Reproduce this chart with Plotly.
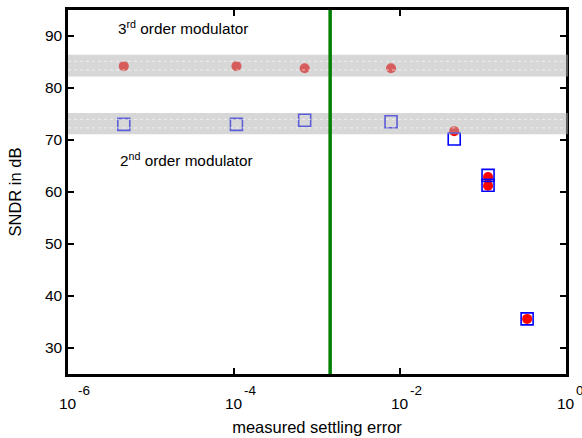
import math
import plotly.graph_objects as go

# data
settling_err = [4.7e-6, 1.07e-4, 7.1e-4, 7.8e-3, 0.045, 0.115, 0.115, 0.34]
sndr_3rd = [84.2, 84.2, 83.8, 83.8, 71.7, 62.9, 61.2, 35.6]
sndr_2nd = [73.0, 73.0, 73.8, 73.5, 70.2, 63.2, 61.3, 35.6]
limit_err = 1.44e-3
band_3rd = [82.2, 86.4]
band_2nd = [71.1, 75.2]
x_tickvals = [1e-6, 1e-4, 1e-2, 1]
x_tick_base = ["10", "10", "10", "10"]
x_tick_exp = ["-6", "-4", "-2", "0"]
y_tickvals = [30, 40, 50, 60, 70, 80, 90]

fig = go.Figure()
fig.add_trace(go.Scatter(x=settling_err, y=sndr_3rd, mode="markers",
                         marker=dict(symbol="circle", size=10, color="#ff0000",
                                     line=dict(width=0)), showlegend=False))
fig.add_trace(go.Scatter(x=settling_err, y=sndr_2nd, mode="markers",
                         marker=dict(symbol="square-open", size=12, color="#0000ff",
                                     line=dict(width=1.6)), showlegend=False))

for b in (band_3rd, band_2nd):
    fig.add_shape(type="rect", xref="paper", yref="y", x0=0, x1=1.004, y0=b[0], y1=b[1],
                  fillcolor="rgba(178,178,178,0.52)", line=dict(width=0), layer="above")
    span = b[1] - b[0]
    for f in (0.3, 0.7):
        yy = b[0] + span * f
        fig.add_shape(type="line", xref="paper", yref="y", x0=0, x1=1, y0=yy, y1=yy,
                      line=dict(color="rgba(255,255,255,0.6)", width=1, dash="dot"),
                      layer="above")

fig.add_shape(type="line", xref="x", yref="paper", x0=limit_err, x1=limit_err, y0=0, y1=1,
              line=dict(color="#008000", width=3.5), layer="above")

fig.add_annotation(x=-4.62, y=91.6, xref="x", yref="y", text="3<sup>rd</sup> order modulator",
                   showarrow=False, font=dict(size=15.3, color="black"))
fig.add_annotation(x=-4.57, y=66.3, xref="x", yref="y", text="2<sup>nd</sup> order modulator",
                   showarrow=False, font=dict(size=15.3, color="black"))

# x tick labels: "10" centred on the tick, exponent to its upper right
for v, base, ex in zip(x_tickvals, x_tick_base, x_tick_exp):
    lx = math.log10(v)
    fig.add_annotation(x=lx, y=0, xref="x", yref="paper", text=base,
                       showarrow=False, xanchor="center", yanchor="middle",
                       xshift=-0.5, yshift=-29, font=dict(size=15.5, color="black"))
    fig.add_annotation(x=lx, y=0, xref="x", yref="paper", text=ex,
                       showarrow=False, xanchor="left", yanchor="middle",
                       xshift=7.5, yshift=-16, font=dict(size=13.5, color="black"))

fig.update_layout(
    width=582, height=438,
    margin=dict(l=68, r=16, t=10, b=64),
    paper_bgcolor="white", plot_bgcolor="white",
    font=dict(family="Liberation Sans, Arial, sans-serif", color="black", size=15.5),
    xaxis=dict(type="log", range=[-6, 0], tickvals=x_tickvals, showticklabels=False,
               showgrid=False, zeroline=False, showline=True, linecolor="black", linewidth=2.5,
               mirror="ticks", ticks="inside", ticklen=6, tickwidth=1.5, tickcolor="black",
               automargin=False,
               title=dict(text="measured settling error", font=dict(size=16.5), standoff=46)),
    yaxis=dict(range=[25, 95], tickvals=y_tickvals, showgrid=False, zeroline=False,
               showline=True, linecolor="black", linewidth=2.5, mirror="ticks",
               ticks="inside", ticklen=6, tickwidth=1.5, tickcolor="black",
               automargin=False,
               title=dict(text="SNDR in dB", font=dict(size=16.5), standoff=20),
               tickfont=dict(size=15.5)),
)

fig.write_html("out.html")
